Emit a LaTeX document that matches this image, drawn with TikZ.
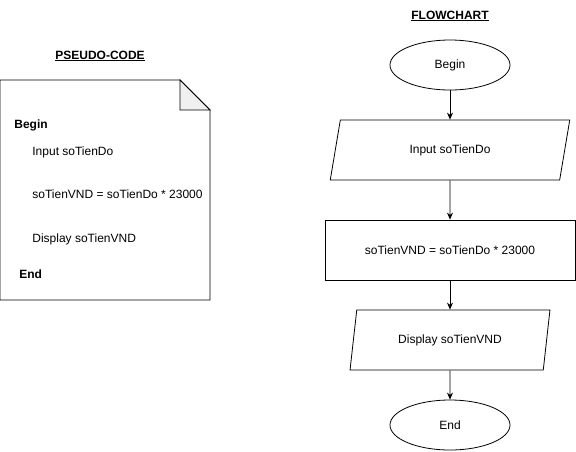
\documentclass[tikz,border=0pt]{standalone}
\usepackage{fontspec}
\setmainfont{Liberation Sans}
\usetikzlibrary{arrows.meta,shapes.geometric}

\tikzset{
  txt/.style={font=\fontsize{12}{14}\selectfont, inner sep=0pt},
  title/.style={txt, font=\fontsize{12}{14}\selectfont\bfseries},
  terminal/.style={draw, ellipse, txt, minimum width=120, minimum height=50},
  io/.style={draw, trapezium, trapezium left angle=71.6, trapezium right angle=108.4,
    trapezium stretches=true, txt, minimum width=240, minimum height=60},
  process/.style={draw, rectangle, txt, minimum width=250, minimum height=60},
  flow/.style={-{Stealth[length=7pt,width=6pt]}, line width=0.8pt}
}

\begin{document}
\begin{tikzpicture}[x=1pt, y=-1pt, line width=0.8pt]

  \useasboundingbox (0,0) rectangle (576,451);

  % Pseudo-code page
  \node[title, anchor=base] (pctitle) at (100,59) {\underline{PSEUDO-CODE}};
  \draw (0,80) -- (180,80) -- (210,110) -- (210,300) -- (0,300) -- cycle;
  \filldraw[fill=gray!12] (180,80) -- (180,110) -- (210,110) -- cycle;

  \node[txt, anchor=west, font=\fontsize{12}{14}\selectfont\bfseries] (pcbegin) at (14,125) {Begin};
  \node[txt, anchor=west] (pcinput) at (32,152) {Input soTienDo};
  \node[txt, anchor=west] (pccalc) at (32,194) {soTienVND = soTienDo * 23000};
  \node[txt, anchor=west] (pcshow) at (32,239) {Display soTienVND};
  \node[txt, anchor=west, font=\fontsize{12}{14}\selectfont\bfseries] (pcend) at (19,274) {End};

  % Flowchart
  \node[title, anchor=base] (fctitle) at (450,19) {\underline{FLOWCHART}};
  \node[terminal] (begin) at (450,65) {Begin};
  \node[io] (input) at (450,150) {Input soTienDo};
  \node[process] (calc) at (450,250) {soTienVND = soTienDo * 23000};
  \node[io, minimum width=200] (show) at (450,340) {Display soTienVND};
  \node[terminal] (end) at (450,425) {End};

  % Connectors
  \draw[flow] (begin) -- (input);
  \draw[flow] (input) -- (calc);
  \draw[flow] (calc) -- (show);
  \draw[flow] (show) -- (end);

\end{tikzpicture}
\end{document}
